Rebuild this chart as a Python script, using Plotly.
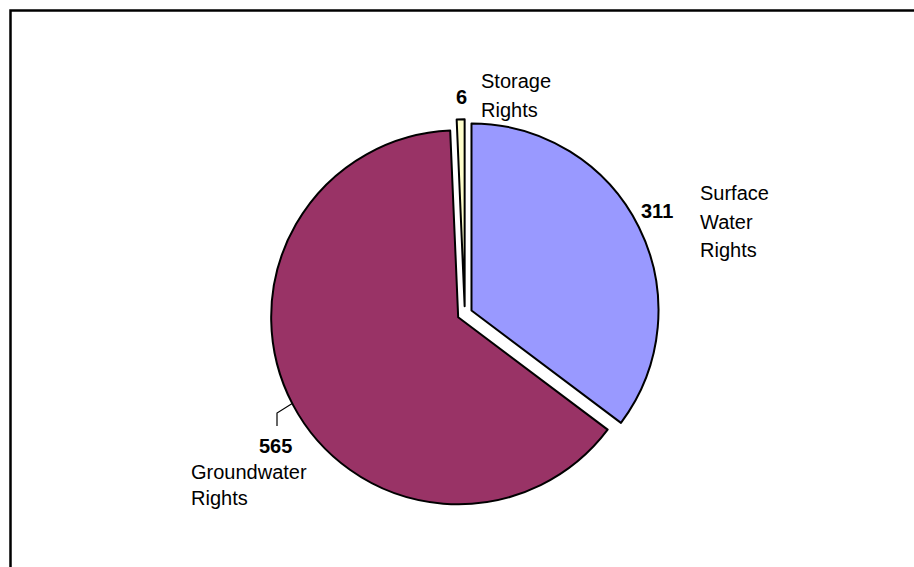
import plotly.graph_objects as go

# Water rights by type
labels = ["Surface Water Rights", "Groundwater Rights", "Storage Rights"]
values = [311, 565, 6]
colors = ["#9999FF", "#993366", "#FFFFCC"]
pulls = [0.04, 0.04, 0.04]

W, H = 914, 567
FONT = "Liberation Sans, Arial, sans-serif"
FS = 20

# pie placement (pixels): centre and radius of the slices
CX, CY, R = 464.8, 313.8, 187.0
half = R * (1 + max(pulls))
dom_x = [(CX - half) / W, (CX + half) / W]
dom_y = [1 - (CY + half) / H, 1 - (CY - half) / H]

# label layout: value centre, name left edge, first name line centre, line step
label_pos = {
    "Surface Water Rights": dict(vx=657, vy=211, nx=698, ny=193, step=28.5),
    "Groundwater Rights": dict(vx=275.5, vy=446, nx=189, ny=472, step=26),
    "Storage Rights": dict(vx=461, vy=97, nx=479, ny=81, step=28.5),
}


def px(x):
    return x / W


def py(y):
    return 1 - y / H


fig = go.Figure(
    go.Pie(
        labels=labels,
        values=values,
        sort=False,
        direction="clockwise",
        rotation=0,
        pull=pulls,
        marker=dict(colors=colors, line=dict(color="black", width=2)),
        textinfo="none",
        hoverinfo="label+value",
        showlegend=False,
        domain=dict(x=dom_x, y=dom_y),
    )
)

annotations = []
for lab, val in zip(labels, values):
    p = label_pos[lab]
    annotations.append(dict(
        x=px(p["vx"]), y=py(p["vy"]), xref="paper", yref="paper",
        text=f"<b>{val}</b>", showarrow=False,
        xanchor="center", yanchor="middle",
        font=dict(family=FONT, size=FS, color="black"),
    ))
    for i, word in enumerate(lab.split()):
        annotations.append(dict(
            x=px(p["nx"]), y=py(p["ny"] + i * p["step"]),
            xref="paper", yref="paper",
            text=word, showarrow=False,
            xanchor="left", yanchor="middle",
            font=dict(family=FONT, size=FS, color="black"),
        ))

shapes = [
    # chart frame, running off the right and bottom edges
    dict(type="rect", xref="paper", yref="paper",
         x0=px(10.5), y0=-0.05, x1=1.05, y1=py(10.5),
         line=dict(color="black", width=2.5), fillcolor="rgba(0,0,0,0)"),
    # leader line to the groundwater label
    dict(type="path", xref="paper", yref="paper",
         path=f"M {px(277)} {py(426)} L {px(277)} {py(413)} L {px(293)} {py(403)}",
         line=dict(color="black", width=1.2)),
]

fig.update_layout(
    width=W, height=H,
    margin=dict(l=0, r=0, t=0, b=0),
    paper_bgcolor="white", plot_bgcolor="white",
    annotations=annotations,
    shapes=shapes,
)

fig.write_html("out.html")
